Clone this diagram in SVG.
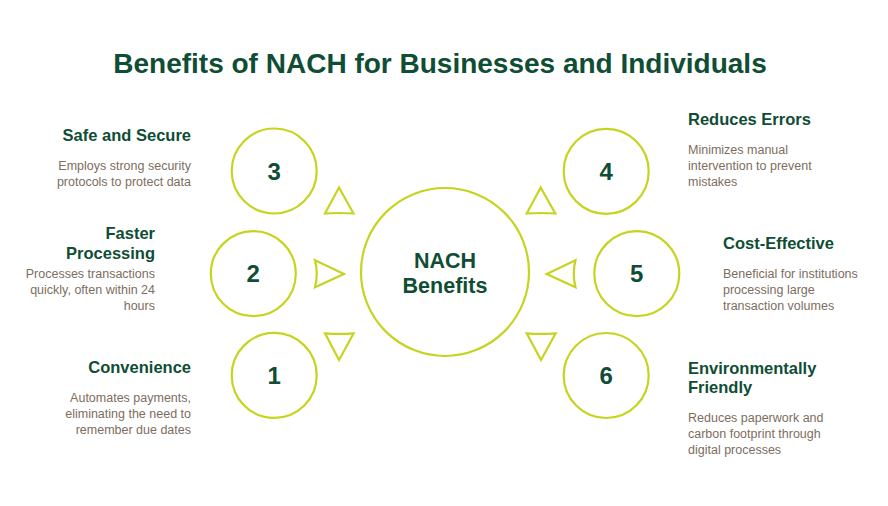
<svg xmlns="http://www.w3.org/2000/svg" width="888" height="506" viewBox="0 0 888 506">
<style>
.ring{fill:#ffffff;stroke:#c6d41f;stroke-width:2.2}
.tri{fill:none;stroke:#c6d41f;stroke-width:2.2;stroke-linejoin:miter}
.title{font-family:"Liberation Sans",Arial,sans-serif;font-weight:bold;font-size:28px;fill:#0f4d34}
.num{font-family:"Liberation Sans",Arial,sans-serif;font-weight:bold;font-size:24px;fill:#0f4d34;text-anchor:middle}
.center{font-family:"Liberation Sans",Arial,sans-serif;font-weight:bold;font-size:21.5px;fill:#0f4d34;text-anchor:middle}
.head{font-family:"Liberation Sans",Arial,sans-serif;font-weight:bold;font-size:16.5px;fill:#0f4d34}
.desc{font-family:"Liberation Sans",Arial,sans-serif;font-size:12.5px;fill:#7d6d5e}
.r{text-anchor:end}
</style>
<rect width="888" height="506" fill="#ffffff"/>
<text class="title" x="440" y="73" text-anchor="middle">Benefits of NACH for Businesses and Individuals</text>

<g id="connectors">
<path class="tri" d="M339,187.5 L353.5,213.5 Q339,212.5 325,213.5 Z"/>
<path class="tri" d="M344,274 L315,287.3 Q318.5,274 315,260.3 Z"/>
<path class="tri" d="M339,360 L325,333.3 Q339,334.3 353.7,333.3 Z"/>
<path class="tri" d="M540.7,187.5 L555.3,213.5 Q540.7,212.5 526.7,213.5 Z"/>
<path class="tri" d="M546.7,274 L575.5,287.3 Q572,274 575.5,260.3 Z"/>
<path class="tri" d="M541,360 L526.7,333.3 Q541,334.3 555.7,333.3 Z"/>
</g>

<g id="center">
<circle class="ring" cx="445" cy="272" r="84"/>
<text class="center" x="445" y="267.7">NACH</text>
<text class="center" x="445" y="293.3">Benefits</text>
</g>

<g id="node3">
<circle class="ring" cx="274.2" cy="171" r="42.5"/>
<text class="num" x="274.2" y="179.7">3</text>
<text class="head r" x="191" y="141">Safe and Secure</text>
<text class="desc r" x="191" y="169.5">Employs strong security</text>
<text class="desc r" x="191" y="185.5">protocols to protect data</text>
</g>

<g id="node2">
<circle class="ring" cx="253.3" cy="273.7" r="42.5"/>
<text class="num" x="253.3" y="282.4">2</text>
<text class="head r" x="155" y="239.3">Faster</text>
<text class="head r" x="155" y="259.3">Processing</text>
<text class="desc r" x="155" y="278">Processes transactions</text>
<text class="desc r" x="155" y="294">quickly, often within 24</text>
<text class="desc r" x="155" y="310">hours</text>
</g>

<g id="node1">
<circle class="ring" cx="274.2" cy="375.4" r="42.5"/>
<text class="num" x="274.2" y="384.1">1</text>
<text class="head r" x="191" y="373.3">Convenience</text>
<text class="desc r" x="191" y="402.3">Automates payments,</text>
<text class="desc r" x="191" y="418">eliminating the need to</text>
<text class="desc r" x="191" y="433.7">remember due dates</text>
</g>

<g id="node4">
<circle class="ring" cx="606.2" cy="171.3" r="42.5"/>
<text class="num" x="606.2" y="180">4</text>
<text class="head" x="688" y="125.3">Reduces Errors</text>
<text class="desc" x="688" y="154">Minimizes manual</text>
<text class="desc" x="688" y="170">intervention to prevent</text>
<text class="desc" x="688" y="186">mistakes</text>
</g>

<g id="node5">
<circle class="ring" cx="636.8" cy="273.7" r="42.5"/>
<text class="num" x="636.8" y="282.4">5</text>
<text class="head" x="723" y="248.7">Cost-Effective</text>
<text class="desc" x="723" y="277.7">Beneficial for institutions</text>
<text class="desc" x="723" y="293.7">processing large</text>
<text class="desc" x="723" y="309.7">transaction volumes</text>
</g>

<g id="node6">
<circle class="ring" cx="606.2" cy="375.5" r="42.5"/>
<text class="num" x="606.2" y="384.2">6</text>
<text class="head" x="688" y="374">Environmentally</text>
<text class="head" x="688" y="393">Friendly</text>
<text class="desc" x="688" y="421.7">Reduces paperwork and</text>
<text class="desc" x="688" y="437.7">carbon footprint through</text>
<text class="desc" x="688" y="453.5">digital processes</text>
</g>
</svg>
